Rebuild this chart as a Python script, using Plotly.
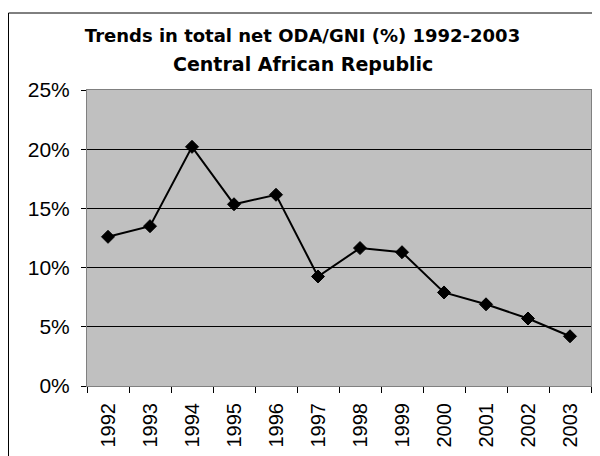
import plotly.graph_objects as go

years = ["1992", "1993", "1994", "1995", "1996", "1997",
         "1998", "1999", "2000", "2001", "2002", "2003"]
oda_gni_pct = [12.6, 13.5, 20.2, 15.35, 16.15, 9.25,
               11.65, 11.3, 7.9, 6.9, 5.7, 4.2]
y_tick_vals = [0, 5, 10, 15, 20, 25]
y_tick_text = ["0%", "5%", "10%", "15%", "20%", "25%"]

title_line1 = "Trends in total net ODA/GNI (%) 1992-2003"
title_line2 = "Central African Republic"

W, H = 600, 456
L, R, T, B = 79, 17, 82, 78
pw, ph = W - L - R, H - T - B

fig = go.Figure()
fig.add_trace(go.Scatter(
    x=years, y=oda_gni_pct, mode="lines+markers",
    line=dict(color="black", width=2),
    marker=dict(symbol="diamond", size=10, color="black",
                line=dict(color="black", width=1)),
    showlegend=False, hoverinfo="x+y",
))

font_main = "Liberation Sans, Arial, sans-serif"
font_title = "DejaVu Sans, sans-serif"
cx = 294.5

fig.update_layout(
    width=W, height=H,
    margin=dict(l=L, r=R, t=T, b=B, autoexpand=False),
    paper_bgcolor="white",
    plot_bgcolor="#C0C0C0",
    font=dict(family=font_main, color="black"),
    title=dict(text="<b>" + title_line1 + "</b>", xref="container", x=cx / W,
               xanchor="center", yref="container", y=1 - 28 / H, yanchor="middle",
               font=dict(size=18, family=font_title, color="black")),
    xaxis=dict(type="category", tickson="boundaries", ticks="outside", ticklen=6,
               tickcolor="black", tickwidth=1, tickangle=-90,
               tickfont=dict(size=20, family=font_main),
               showline=True, linecolor="#808080", linewidth=1, mirror=True,
               showgrid=False, range=[-0.5, 11.5], fixedrange=True,
               ticklabelstandoff=8),
    yaxis=dict(range=[0, 25], tickvals=y_tick_vals, ticktext=y_tick_text,
               ticks="outside", ticklen=5, tickcolor="black", tickwidth=1,
               tickfont=dict(size=21, family=font_main),
               showline=True, linecolor="#808080", linewidth=1, mirror=True,
               showgrid=True, gridcolor="black", gridwidth=1,
               zeroline=False, fixedrange=True, ticklabelstandoff=7),
    annotations=[dict(text="<b>" + title_line2 + "</b>", xref="paper", yref="paper",
                      x=(cx - L) / pw, y=(H - B - 56) / ph,
                      showarrow=False, xanchor="center", yanchor="middle",
                      font=dict(size=19, family=font_title, color="black"))],
    shapes=[dict(type="rect", xref="paper", yref="paper",
                 x0=(0.5 - L) / pw, x1=(591 - L) / pw,
                 y0=(H - B - 470) / ph, y1=(H - B - 5) / ph,
                 line=dict(color="black", width=1), fillcolor="rgba(0,0,0,0)",
                 layer="below")],
)

fig.write_html("out.html")
